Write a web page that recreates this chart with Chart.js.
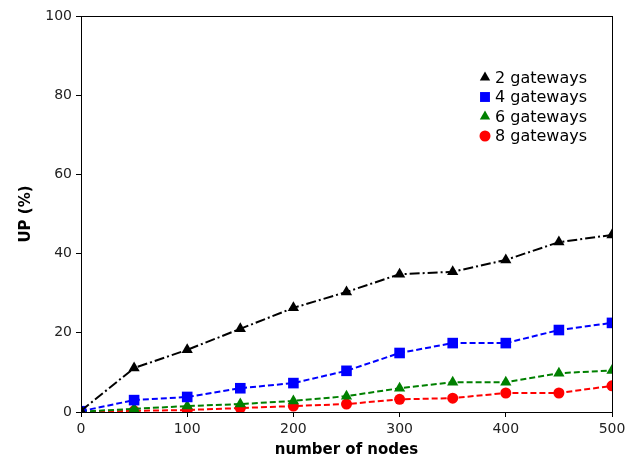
<!DOCTYPE html>
<html>
<head>
<meta charset="utf-8">
<script src="https://cdn.jsdelivr.net/npm/chart.js@4/dist/chart.umd.min.js"></script>
<style>
  html, body { margin: 0; padding: 0; background: #fff; }
  #wrap { width: 635px; height: 460px; }
</style>
</head>
<body>
<div id="wrap"><canvas id="upChart" width="635" height="460"></canvas></div>
<script>
const nodes = [0, 50, 100, 150, 200, 250, 300, 350, 400, 450, 500];
const gw2 = [0.3, 11.1, 15.7, 21.0, 26.3, 30.3, 34.8, 35.4, 38.4, 42.9, 44.7];
const gw4 = [0.2, 3.0, 3.8, 6.0, 7.3, 10.4, 14.9, 17.4, 17.4, 20.7, 22.5];
const gw6 = [0.1, 0.8, 1.5, 2.0, 2.8, 4.0, 6.0, 7.5, 7.5, 9.8, 10.5];
const gw8 = [0.0, 0.3, 0.5, 1.0, 1.5, 2.0, 3.2, 3.5, 4.8, 4.8, 6.6];
const xTicks = [0, 100, 200, 300, 400, 500];
const yTicks = [0, 20, 40, 60, 80, 100];

const pts = arr => arr.map((v, i) => ({ x: nodes[i], y: v }));

function series(label, data, color, style, radius, dash) {
  return {
    label: label,
    data: pts(data),
    borderColor: color,
    backgroundColor: color,
    borderWidth: 2,
    borderDash: dash,
    pointStyle: style,
    pointRadius: radius,
    pointHoverRadius: radius,
    pointBorderWidth: 0,
    tension: 0
  };
}

const frame = {
  id: 'frame',
  afterDraw(chart) {
    const { ctx, chartArea: a } = chart;
    ctx.save();
    ctx.strokeStyle = '#000';
    ctx.lineWidth = 1;
    ctx.strokeRect(a.left + 0.5, a.top + 0.5, a.right - a.left, a.bottom - a.top);

    // legend in the upper right of the plot
    ctx.font = '16px "DejaVu Sans"';
    ctx.textBaseline = 'middle';
    chart.data.datasets.forEach((ds, i) => {
      const y = 77.5 + i * 19.5;
      ctx.fillStyle = ds.backgroundColor;
      Chart.helpers.drawPoint(ctx, {
        pointStyle: ds.pointStyle,
        radius: ds.pointStyle === 'circle' ? 5.5 : (ds.pointStyle === 'rect' ? 7 : 6),
        borderWidth: 0
      }, 485, y);
      ctx.fillStyle = '#000';
      ctx.fillText(ds.label, 495, y + 1);
    });
    ctx.restore();
  }
};

new Chart(document.getElementById('upChart'), {
  type: 'line',
  data: {
    datasets: [
      series('2 gateways', gw2, '#000000', 'triangle', 6.5, [10, 3, 2, 3]),
      series('4 gateways', gw4, '#0000ff', 'rect', 7.5, [6, 3]),
      series('6 gateways', gw6, '#008000', 'triangle', 6.5, [6, 3]),
      series('8 gateways', gw8, '#ff0000', 'circle', 5.5, [6, 3])
    ]
  },
  options: {
    responsive: false,
    animation: false,
    layout: { padding: { top: 16, right: 23, left: 0, bottom: 0 } },
    plugins: { legend: { display: false }, tooltip: { enabled: false } },
    scales: {
      x: {
        type: 'linear',
        min: 0, max: 500,
        afterBuildTicks: s => { s.ticks = xTicks.map(v => ({ value: v })); },
        afterFit: s => { s.height = 48; },
        grid: { drawOnChartArea: false, drawTicks: true, tickLength: 5, color: '#000' },
        border: { color: '#000' },
        ticks: { color: '#222', font: { family: 'DejaVu Sans', size: 14 }, padding: 4, maxRotation: 0 },
        title: { display: true, text: 'number of nodes', color: '#000',
                 font: { family: 'DejaVu Sans', size: 15, weight: 'bold' }, padding: { top: 0, bottom: 1 } }
      },
      y: {
        min: 0, max: 100,
        afterBuildTicks: s => { s.ticks = yTicks.map(v => ({ value: v })); },
        afterFit: s => { s.width = 81; },
        grid: { drawOnChartArea: false, drawTicks: true, tickLength: 5, color: '#000' },
        border: { color: '#000' },
        ticks: { color: '#222', font: { family: 'DejaVu Sans', size: 14 }, padding: 4 },
        title: { display: true, text: 'UP (%)', color: '#000',
                 font: { family: 'DejaVu Sans', size: 15, weight: 'bold' }, padding: { top: 17, bottom: 0 } }
      }
    }
  },
  plugins: [frame]
});
</script>
</body>
</html>
